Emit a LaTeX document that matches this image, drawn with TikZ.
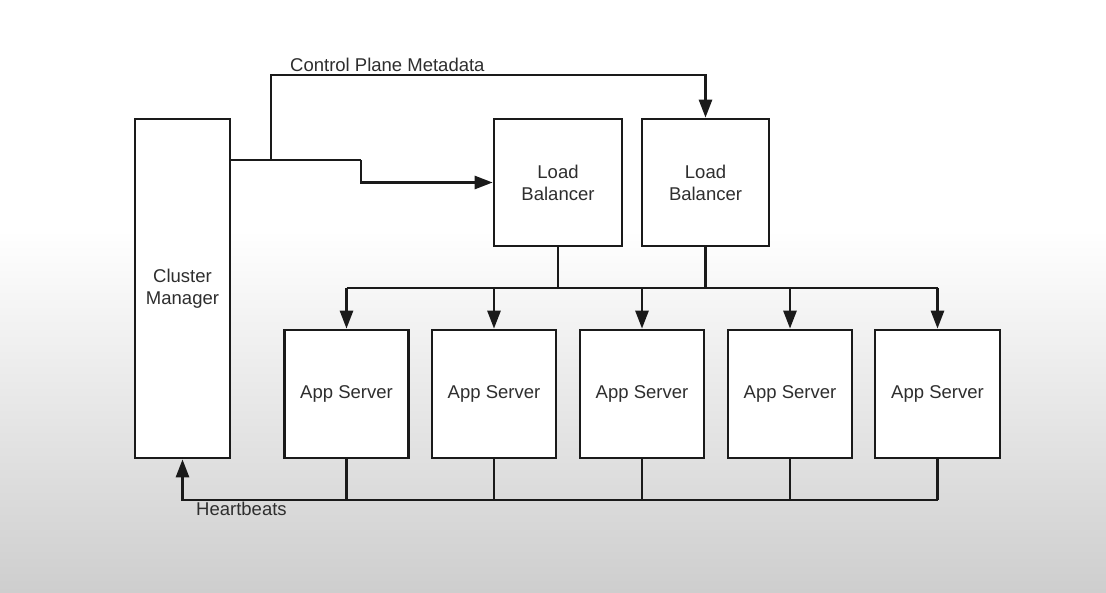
\documentclass[tikz,border=0pt]{standalone}
\usepackage{fontspec}
\setmainfont{Liberation Sans}
\usetikzlibrary{arrows.meta}
\definecolor{ink}{HTML}{1A1A1A}
\definecolor{txt}{HTML}{2E2E2E}
\definecolor{bgbot}{HTML}{CECECE}
\begin{document}
\begin{tikzpicture}[x=1pt,y=-1pt,
  box/.style={draw=ink,line width=2.7pt,fill=white,align=center,inner sep=0pt,
    font=\fontsize{18.5}{22}\selectfont,text=txt},
  wire/.style={draw=ink,line width=2.7pt},
  arr/.style={wire,-{Triangle[length=18pt,width=13pt]}},
  lbl/.style={font=\fontsize{18.5}{22}\selectfont,text=txt,inner sep=0pt}]
\useasboundingbox (0,0) rectangle (1106,592);
\fill[white] (0,0) rectangle (1106,230);
\shade[top color=white,bottom color=bgbot] (0,229.5) rectangle (1106,592);
% nodes
\node[box,minimum width=95pt,minimum height=339pt] (cm) at (182.5,288.5) {Cluster\\Manager};
\node[box,minimum width=128pt,minimum height=127pt] (lb1) at (558,182.5) {Load\\Balancer};
\node[box,minimum width=127pt,minimum height=127pt] (lb2) at (705.5,182.5) {Load\\Balancer};
\node[box,minimum width=124pt,minimum height=128pt] (as1) at (346.5,394) {App Server};
\node[box,minimum width=124pt,minimum height=128pt] (as2) at (494,394) {App Server};
\node[box,minimum width=124pt,minimum height=128pt] (as3) at (642,394) {App Server};
\node[box,minimum width=124pt,minimum height=128pt] (as4) at (790,394) {App Server};
\node[box,minimum width=125pt,minimum height=128pt] (as5) at (937.5,394) {App Server};
\node[lbl,anchor=west] (cpm) at (290,65) {Control Plane Metadata};
\node[lbl,anchor=west] (hbl) at (196,509) {Heartbeats};
% coordinates
\coordinate (j1) at (271,160);
\coordinate (step1) at (361,160);
\coordinate (top) at (705.5,75);
\coordinate (bus) at (0,288);
\coordinate (hb) at (0,500);
% control plane connectors
\draw[wire] (cm.east |- j1) -- (step1);
\draw[arr] (step1) |- (lb1.west);
\draw[arr] (j1) |- (top) -- (lb2.north);
% load balancers to app servers
\draw[wire] (lb1.south) -- (lb1.south |- bus);
\draw[wire] (lb2.south) -- (lb2.south |- bus);
\draw[wire] (as1.north |- bus) -- (as5.north |- bus);
\foreach \n in {as1,as2,as3,as4,as5}{
  \draw[arr] (\n.north |- bus) -- (\n.north);
  \draw[wire] (\n.south) -- (\n.south |- hb);
}
% heartbeats
\draw[arr] (as5.south |- hb) -- (cm.south |- hb) -- (cm.south);
\end{tikzpicture}
\end{document}
